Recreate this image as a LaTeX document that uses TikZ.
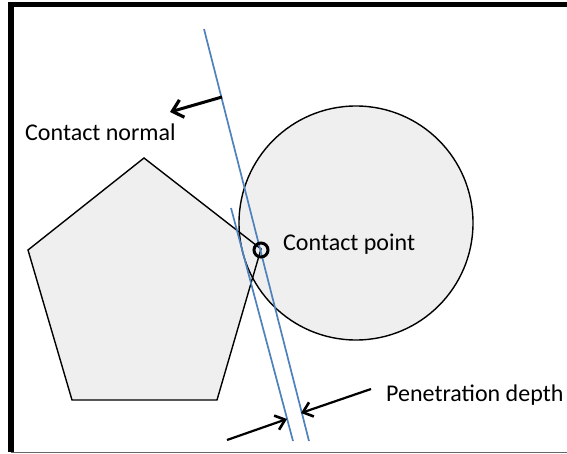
\documentclass[tikz,border=0pt]{standalone}
\usepackage{fontspec}
\setmainfont{Carlito}
\usetikzlibrary{arrows.meta}
\definecolor{shapefill}{HTML}{EFEFEF}
\definecolor{planeblue}{HTML}{4F81BD}
\begin{document}
\begin{tikzpicture}[x=1pt,y=-1pt,
  shapeline/.style={draw=black,line width=1.4pt},
  plane/.style={draw=planeblue,line width=1.7pt},
  label/.style={font=\fontsize{24}{27}\selectfont,inner sep=0pt,anchor=base west},
  pointer/.style={draw=black,line width=2.2pt,-{Straight Barb[length=9pt,width=15pt,line width=2.6pt]}},
  normalarrow/.style={draw=black,line width=3pt,-{Straight Barb[length=10pt,width=18pt,line width=3.2pt]}}]
\useasboundingbox (0,0) rectangle (567,454);
\fill[white] (0,0) rectangle (567,454);

% pentagon and sphere
\coordinate (p1) at (144,158);
\coordinate (p2) at (261,249);
\coordinate (p3) at (217,400);
\coordinate (p4) at (72,400);
\coordinate (p5) at (28,250);
\coordinate (sc) at (356,223);
\fill[shapefill] (p1) -- (p2) -- (p3) -- (p4) -- (p5) -- cycle;
\fill[shapefill] (sc) circle[radius=117];
\draw[shapeline] (p1) -- (p2) -- (p3) -- (p4) -- (p5) -- cycle;
\draw[shapeline] (sc) circle[radius=117];

% contact planes
\coordinate (a1) at (204,29);
\coordinate (a2) at (309,441);
\coordinate (b1) at (231,208);
\coordinate (b2) at (293,441);
\draw[plane] (a1) -- (a2);
\draw[plane] (b1) -- (b2);

% contact point marker
\node[circle,draw=black,line width=3pt,minimum size=14pt,inner sep=0pt] (cp) at (261,250) {};

% labels
\node[label] (lnormal) at (25,141) {Contact normal};
\node[label] (lpoint) at (283,251) {Contact point};
\node[label] (ldepth) at (386,401) {Penetration depth};

% arrows
\coordinate (n0) at (222,97);
\coordinate (n1) at (170,112);
\draw[normalarrow] (n0) -- (n1);
\coordinate (d0) at (227,440);
\coordinate (d1) at (287,419);
\draw[pointer] (d0) -- (d1);
\coordinate (e0) at (371,389);
\coordinate (e1) at (301,413);
\draw[pointer] (e0) -- (e1);

% frame
\draw[black,line width=5pt] (11,4.5) -- (567,4.5);
\draw[black,line width=6pt] (11,2) -- (11,452);
\draw[black!60,line width=1.5pt] (11,452.5) -- (567,452.5);
\end{tikzpicture}
\end{document}
